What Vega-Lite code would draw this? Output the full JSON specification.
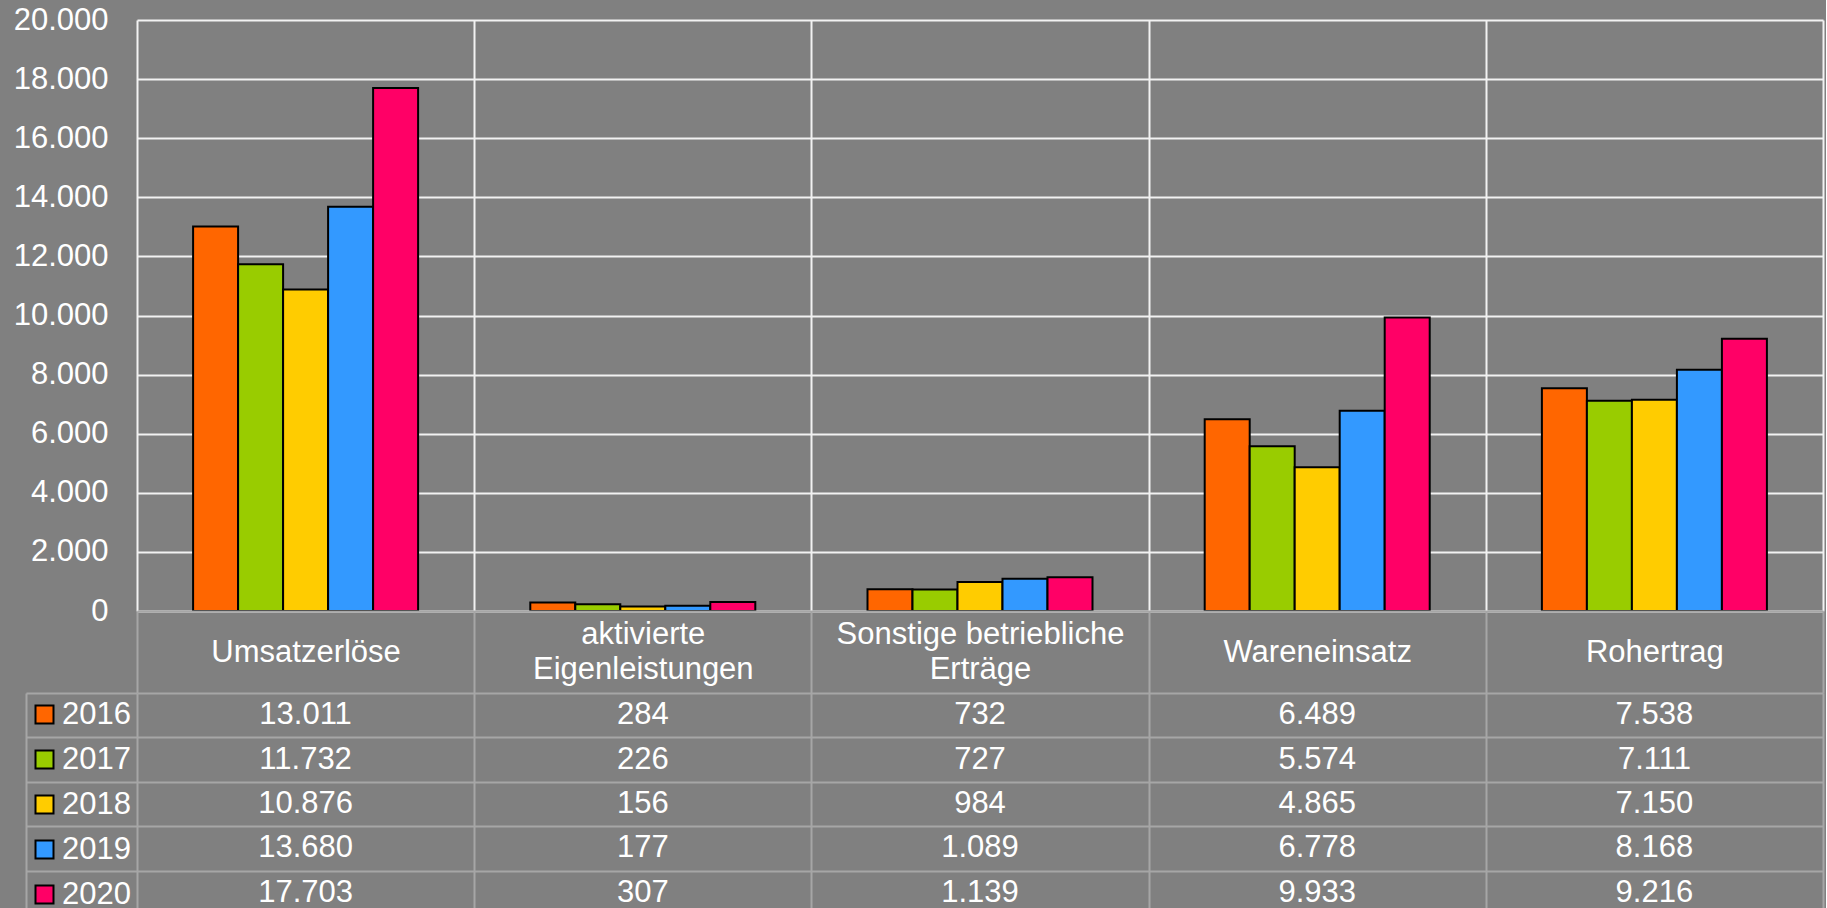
{
  "$schema": "https://vega.github.io/schema/vega-lite/v6.json",
  "background": "#808080",
  "padding": {"left": 13, "top": 4, "right": 2, "bottom": 0},
  "config": {
    "view": {"stroke": null},
    "font": "Liberation Sans",
    "locale": {"number": {"decimal": ",", "thousands": ".", "grouping": [3], "currency": ["", " €"]}}
  },
  "data": {"values": [
    {"kategorie": "Umsatzerlöse", "jahr": "2016", "wert": 13011},
    {"kategorie": "aktivierte Eigenleistungen", "jahr": "2016", "wert": 284},
    {"kategorie": "Sonstige betriebliche Erträge", "jahr": "2016", "wert": 732},
    {"kategorie": "Wareneinsatz", "jahr": "2016", "wert": 6489},
    {"kategorie": "Rohertrag", "jahr": "2016", "wert": 7538},
    {"kategorie": "Umsatzerlöse", "jahr": "2017", "wert": 11732},
    {"kategorie": "aktivierte Eigenleistungen", "jahr": "2017", "wert": 226},
    {"kategorie": "Sonstige betriebliche Erträge", "jahr": "2017", "wert": 727},
    {"kategorie": "Wareneinsatz", "jahr": "2017", "wert": 5574},
    {"kategorie": "Rohertrag", "jahr": "2017", "wert": 7111},
    {"kategorie": "Umsatzerlöse", "jahr": "2018", "wert": 10876},
    {"kategorie": "aktivierte Eigenleistungen", "jahr": "2018", "wert": 156},
    {"kategorie": "Sonstige betriebliche Erträge", "jahr": "2018", "wert": 984},
    {"kategorie": "Wareneinsatz", "jahr": "2018", "wert": 4865},
    {"kategorie": "Rohertrag", "jahr": "2018", "wert": 7150},
    {"kategorie": "Umsatzerlöse", "jahr": "2019", "wert": 13680},
    {"kategorie": "aktivierte Eigenleistungen", "jahr": "2019", "wert": 177},
    {"kategorie": "Sonstige betriebliche Erträge", "jahr": "2019", "wert": 1089},
    {"kategorie": "Wareneinsatz", "jahr": "2019", "wert": 6778},
    {"kategorie": "Rohertrag", "jahr": "2019", "wert": 8168},
    {"kategorie": "Umsatzerlöse", "jahr": "2020", "wert": 17703},
    {"kategorie": "aktivierte Eigenleistungen", "jahr": "2020", "wert": 307},
    {"kategorie": "Sonstige betriebliche Erträge", "jahr": "2020", "wert": 1139},
    {"kategorie": "Wareneinsatz", "jahr": "2020", "wert": 9933},
    {"kategorie": "Rohertrag", "jahr": "2020", "wert": 9216}
  ]},
  "bounds": "flush",
  "spacing": 82,
  "resolve": {"scale": {"color": "independent"}, "legend": {"color": "independent"}},
  "vconcat": [
    {
      "width": 1686,
      "height": 591,
      "resolve": {"scale": {"x": "independent"}},
      "layer": [
        {
          "mark": {"type": "rule", "opacity": 0},
          "encoding": {
            "x": {
              "field": "kategorie", "type": "nominal",
              "sort": ["Umsatzerlöse", "aktivierte Eigenleistungen", "Sonstige betriebliche Erträge", "Wareneinsatz", "Rohertrag"],
              "scale": {"paddingInner": 0, "paddingOuter": 0},
              "axis": {
                "orient": "bottom", "title": null, "tickBand": "extent",
                "grid": true, "gridColor": "#F2F2F2", "gridWidth": 2, "gridOpacity": 1,
                "ticks": true, "tickSize": 82, "tickColor": "#A6A6A6", "tickWidth": 2,
                "domain": true, "domainColor": "#A6A6A6", "domainWidth": 2,
                "labelColor": "white", "labelFontSize": 31, "labelBaseline": "middle",
                "labelPadding": {"condition": {"test": "datum.label == 'aktivierte Eigenleistungen' || datum.label == 'Sonstige betriebliche Erträge'", "value": -58.5}, "value": -41},
                "labelAngle": 0, "labelLimit": 0, "labelLineHeight": 35,
                "labelOverlap": false,
                "labelExpr": "datum.label == 'aktivierte Eigenleistungen' ? ['aktivierte', 'Eigenleistungen'] : datum.label == 'Sonstige betriebliche Erträge' ? ['Sonstige betriebliche', 'Erträge'] : datum.label",
                "zindex": 1
              }
            }
          }
        },
        {
          "mark": {"type": "bar", "stroke": "black", "strokeWidth": 2},
          "encoding": {
            "x": {
              "field": "kategorie", "type": "nominal",
              "sort": ["Umsatzerlöse", "aktivierte Eigenleistungen", "Sonstige betriebliche Erträge", "Wareneinsatz", "Rohertrag"],
              "scale": {"paddingInner": 0.0658, "paddingOuter": 0.0329},
              "axis": null
            },
            "xOffset": {"field": "jahr", "type": "nominal", "scale": {"paddingInner": 0, "paddingOuter": 1}},
            "y": {
              "field": "wert", "type": "quantitative",
              "scale": {"domain": [0, 20000], "nice": false},
              "axis": {
                "title": null, "values": [0, 2000, 4000, 6000, 8000, 10000, 12000, 14000, 16000, 18000, 20000],
                "format": ",d", "grid": true, "gridColor": "#F2F2F2", "gridWidth": 2, "gridOpacity": 1,
                "domain": false, "ticks": false,
                "labelColor": "white", "labelFontSize": 31, "labelPadding": 29
              }
            },
            "color": {
              "field": "jahr", "type": "nominal",
              "scale": {"domain": ["2016", "2017", "2018", "2019", "2020"], "range": ["#FF6600", "#99CC00", "#FFCC00", "#3399FF", "#FF0066"]},
              "legend": {
                "orient": "none", "legendX": -108, "legendY": 679, "title": null, "direction": "vertical",
                "symbolType": "square", "symbolSize": 324, "symbolStrokeColor": "black", "symbolStrokeWidth": 2,
                "symbolOpacity": 1, "labelColor": "white", "labelFontSize": 31, "labelOffset": 2,
                "rowPadding": 13, "padding": 0
              }
            }
          }
        }
      ]
    },
    {
      "width": 1686,
      "height": 222,
      "mark": {"type": "text", "color": "white", "fontSize": 31, "baseline": "middle"},
      "encoding": {
        "x": {
          "field": "kategorie", "type": "nominal",
          "sort": ["Umsatzerlöse", "aktivierte Eigenleistungen", "Sonstige betriebliche Erträge", "Wareneinsatz", "Rohertrag"],
          "scale": {"paddingInner": 0, "paddingOuter": 0},
          "axis": {
            "orient": "top", "title": null, "tickBand": "extent",
            "grid": true, "gridColor": "#A6A6A6", "gridWidth": 2, "gridOpacity": 1,
            "labels": false, "ticks": false, "domain": false
          }
        },
        "y": {
          "field": "jahr", "type": "nominal",
          "sort": ["2016", "2017", "2018", "2019", "2020"],
          "scale": {"paddingInner": 0, "paddingOuter": 0},
          "axis": {
            "title": null, "tickBand": "extent", "offset": 111,
            "grid": true, "gridColor": "#A6A6A6", "gridWidth": 2, "gridOpacity": 1,
            "ticks": true, "tickSize": -111, "tickColor": "#A6A6A6", "tickWidth": 2,
            "labels": false, "domain": true, "domainColor": "#A6A6A6", "domainWidth": 2
          }
        },
        "text": {"field": "wert", "type": "quantitative", "format": ",d"}
      }
    }
  ]
}
